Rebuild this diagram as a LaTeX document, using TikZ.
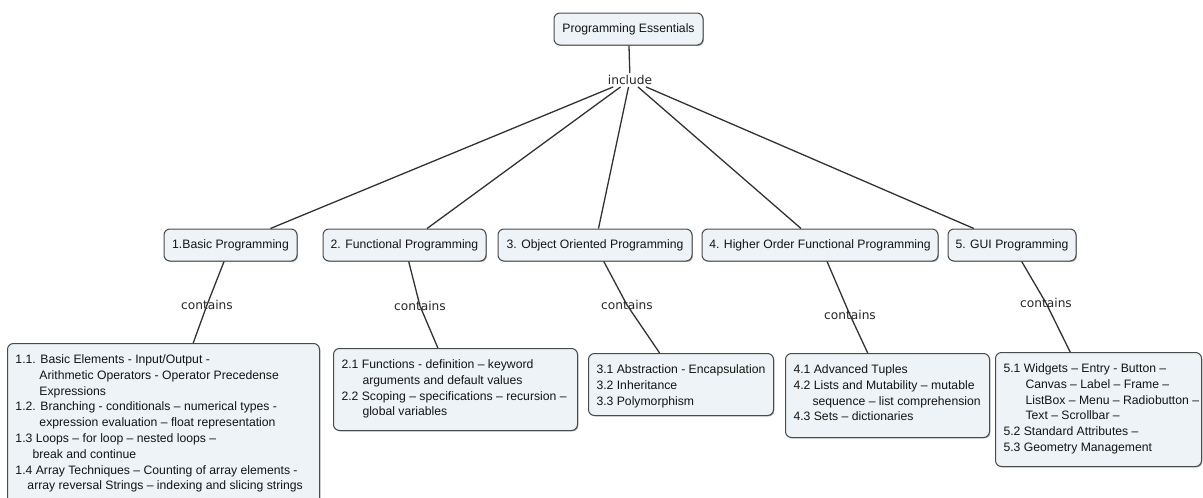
\documentclass[tikz,border=0pt]{standalone}
\usepackage{fontspec}
\setmainfont{Liberation Sans}
\newfontfamily\linkfont{DejaVu Sans}
\usetikzlibrary{shadows}

\definecolor{boxfill}{RGB}{237,243,246}
\definecolor{boxline}{RGB}{75,75,75}
\definecolor{linkline}{RGB}{50,50,50}
\definecolor{inktext}{RGB}{20,20,20}

% one line of a detail list, with its hanging indent
\newcommand{\entry}[2]{\mbox{\hspace*{#1}#2}}
% body of a detail box: box width, box height, lines
\newcommand{\dtext}[3]{\hspace*{8pt}\parbox[c][\dimexpr#2-18pt\relax][t]{\dimexpr#1-14pt\relax}{\hbadness=10000\hfuzz=40pt\strut#3}\hspace*{6pt}}

\tikzset{
  concept/.style={draw=boxline, fill=boxfill, line width=1pt, rounded corners=6pt,
    text=inktext, font=\fontsize{12.2}{15.8}\selectfont,
    drop shadow={shadow xshift=0.9pt, shadow yshift=-0.9pt, opacity=0.35, fill=black}},
  topic/.style={concept, minimum height=32pt, inner sep=0pt},
  detail/.style={concept, anchor=north west, inner xsep=0pt, inner ysep=9pt},
  link/.style={font=\linkfont\fontsize{12.2}{14}\selectfont, text=black!85, inner sep=2pt},
  connector/.style={draw=linkline, line width=1.3pt},
}

\begin{document}
\begin{tikzpicture}[x=1pt,y=-1pt]
\useasboundingbox (0,0) rectangle (1203,498);
\clip (0,0) rectangle (1203,498);

% root concept and its linking phrase
\node[topic, minimum width=149pt] (root) at (628.5,29) {Programming Essentials};
\node[link] (include) at (630,80) {include};

% the five topics
\node[topic, minimum width=133pt] (basic) at (230.5,245) {1.Basic Programming};
\node[topic, minimum width=163pt] (func)  at (404.5,245) {2. Functional Programming};
\node[topic, minimum width=194pt] (oop)   at (595,245)   {3. Object Oriented Programming};
\node[topic, minimum width=236pt] (hof)   at (820,245)   {4. Higher Order Functional Programming};
\node[topic, minimum width=128pt] (gui)   at (1012,245)  {5. GUI Programming};

% linking phrases below the topics
\node[link] (cA) at (207,305)  {contains};
\node[link] (cB) at (420,306)  {contains};
\node[link] (cC) at (627,305)  {contains};
\node[link] (cD) at (850,315)  {contains};
\node[link] (cE) at (1046,303) {contains};

% detail lists
\node[detail] (basicD) at (7,343) {\dtext{312pt}{163pt}{%
  \entry{0pt}{1.1. Basic Elements - Input/Output -}\\
  \entry{24pt}{Arithmetic Operators - Operator Precedense}\\
  \entry{24pt}{Expressions}\\
  \entry{0pt}{1.2. Branching - conditionals – numerical types -}\\
  \entry{24pt}{expression evaluation – float representation}\\
  \entry{0pt}{1.3 Loops – for loop – nested loops –}\\
  \entry{17pt}{break and continue}\\
  \entry{0pt}{1.4 Array Techniques – Counting of array elements -}\\
  \entry{12pt}{array reversal Strings – indexing and slicing strings}}};

\node[detail] (funcD) at (333,348) {\dtext{244pt}{82pt}{%
  \entry{0pt}{2.1 Functions - definition – keyword}\\
  \entry{21pt}{arguments and default values}\\
  \entry{0pt}{2.2 Scoping – specifications – recursion –}\\
  \entry{21pt}{global variables}}};

\node[detail] (oopD) at (588,353) {\dtext{185pt}{62pt}{%
  \entry{0pt}{3.1 Abstraction - Encapsulation}\\
  \entry{0pt}{3.2 Inheritance}\\
  \entry{0pt}{3.3 Polymorphism}}};

\node[detail] (hofD) at (785,353) {\dtext{204pt}{84pt}{%
  \entry{0pt}{4.1 Advanced Tuples}\\
  \entry{0pt}{4.2 Lists and Mutability – mutable}\\
  \entry{19pt}{sequence – list comprehension}\\
  \entry{0pt}{4.3 Sets – dictionaries}}};

\node[detail] (guiD) at (995,352) {\dtext{206pt}{114pt}{%
  \entry{0pt}{5.1 Widgets – Entry - Button –}\\
  \entry{22pt}{Canvas – Label – Frame –}\\
  \entry{22pt}{ListBox – Menu – Radiobutton –}\\
  \entry{22pt}{Text – Scrollbar –}\\
  \entry{0pt}{5.2 Standard Attributes –}\\
  \entry{0pt}{5.3 Geometry Management}}};

% connectors
\draw[connector] (root) -- (include);
\foreach \t in {basic,func,oop,hof,gui}
  \draw[connector] (include) -- (\t);
\draw[connector] (basic) -- (cA.center) -- (basicD);
\draw[connector] (func)  -- (cB.center) -- (funcD);
\draw[connector] (oop)   -- (cC.center) -- (oopD);
\draw[connector] (hof)   -- (cD.center) -- (hofD);
\draw[connector] (gui)   -- (cE.center) -- (guiD);
\end{tikzpicture}
\end{document}
